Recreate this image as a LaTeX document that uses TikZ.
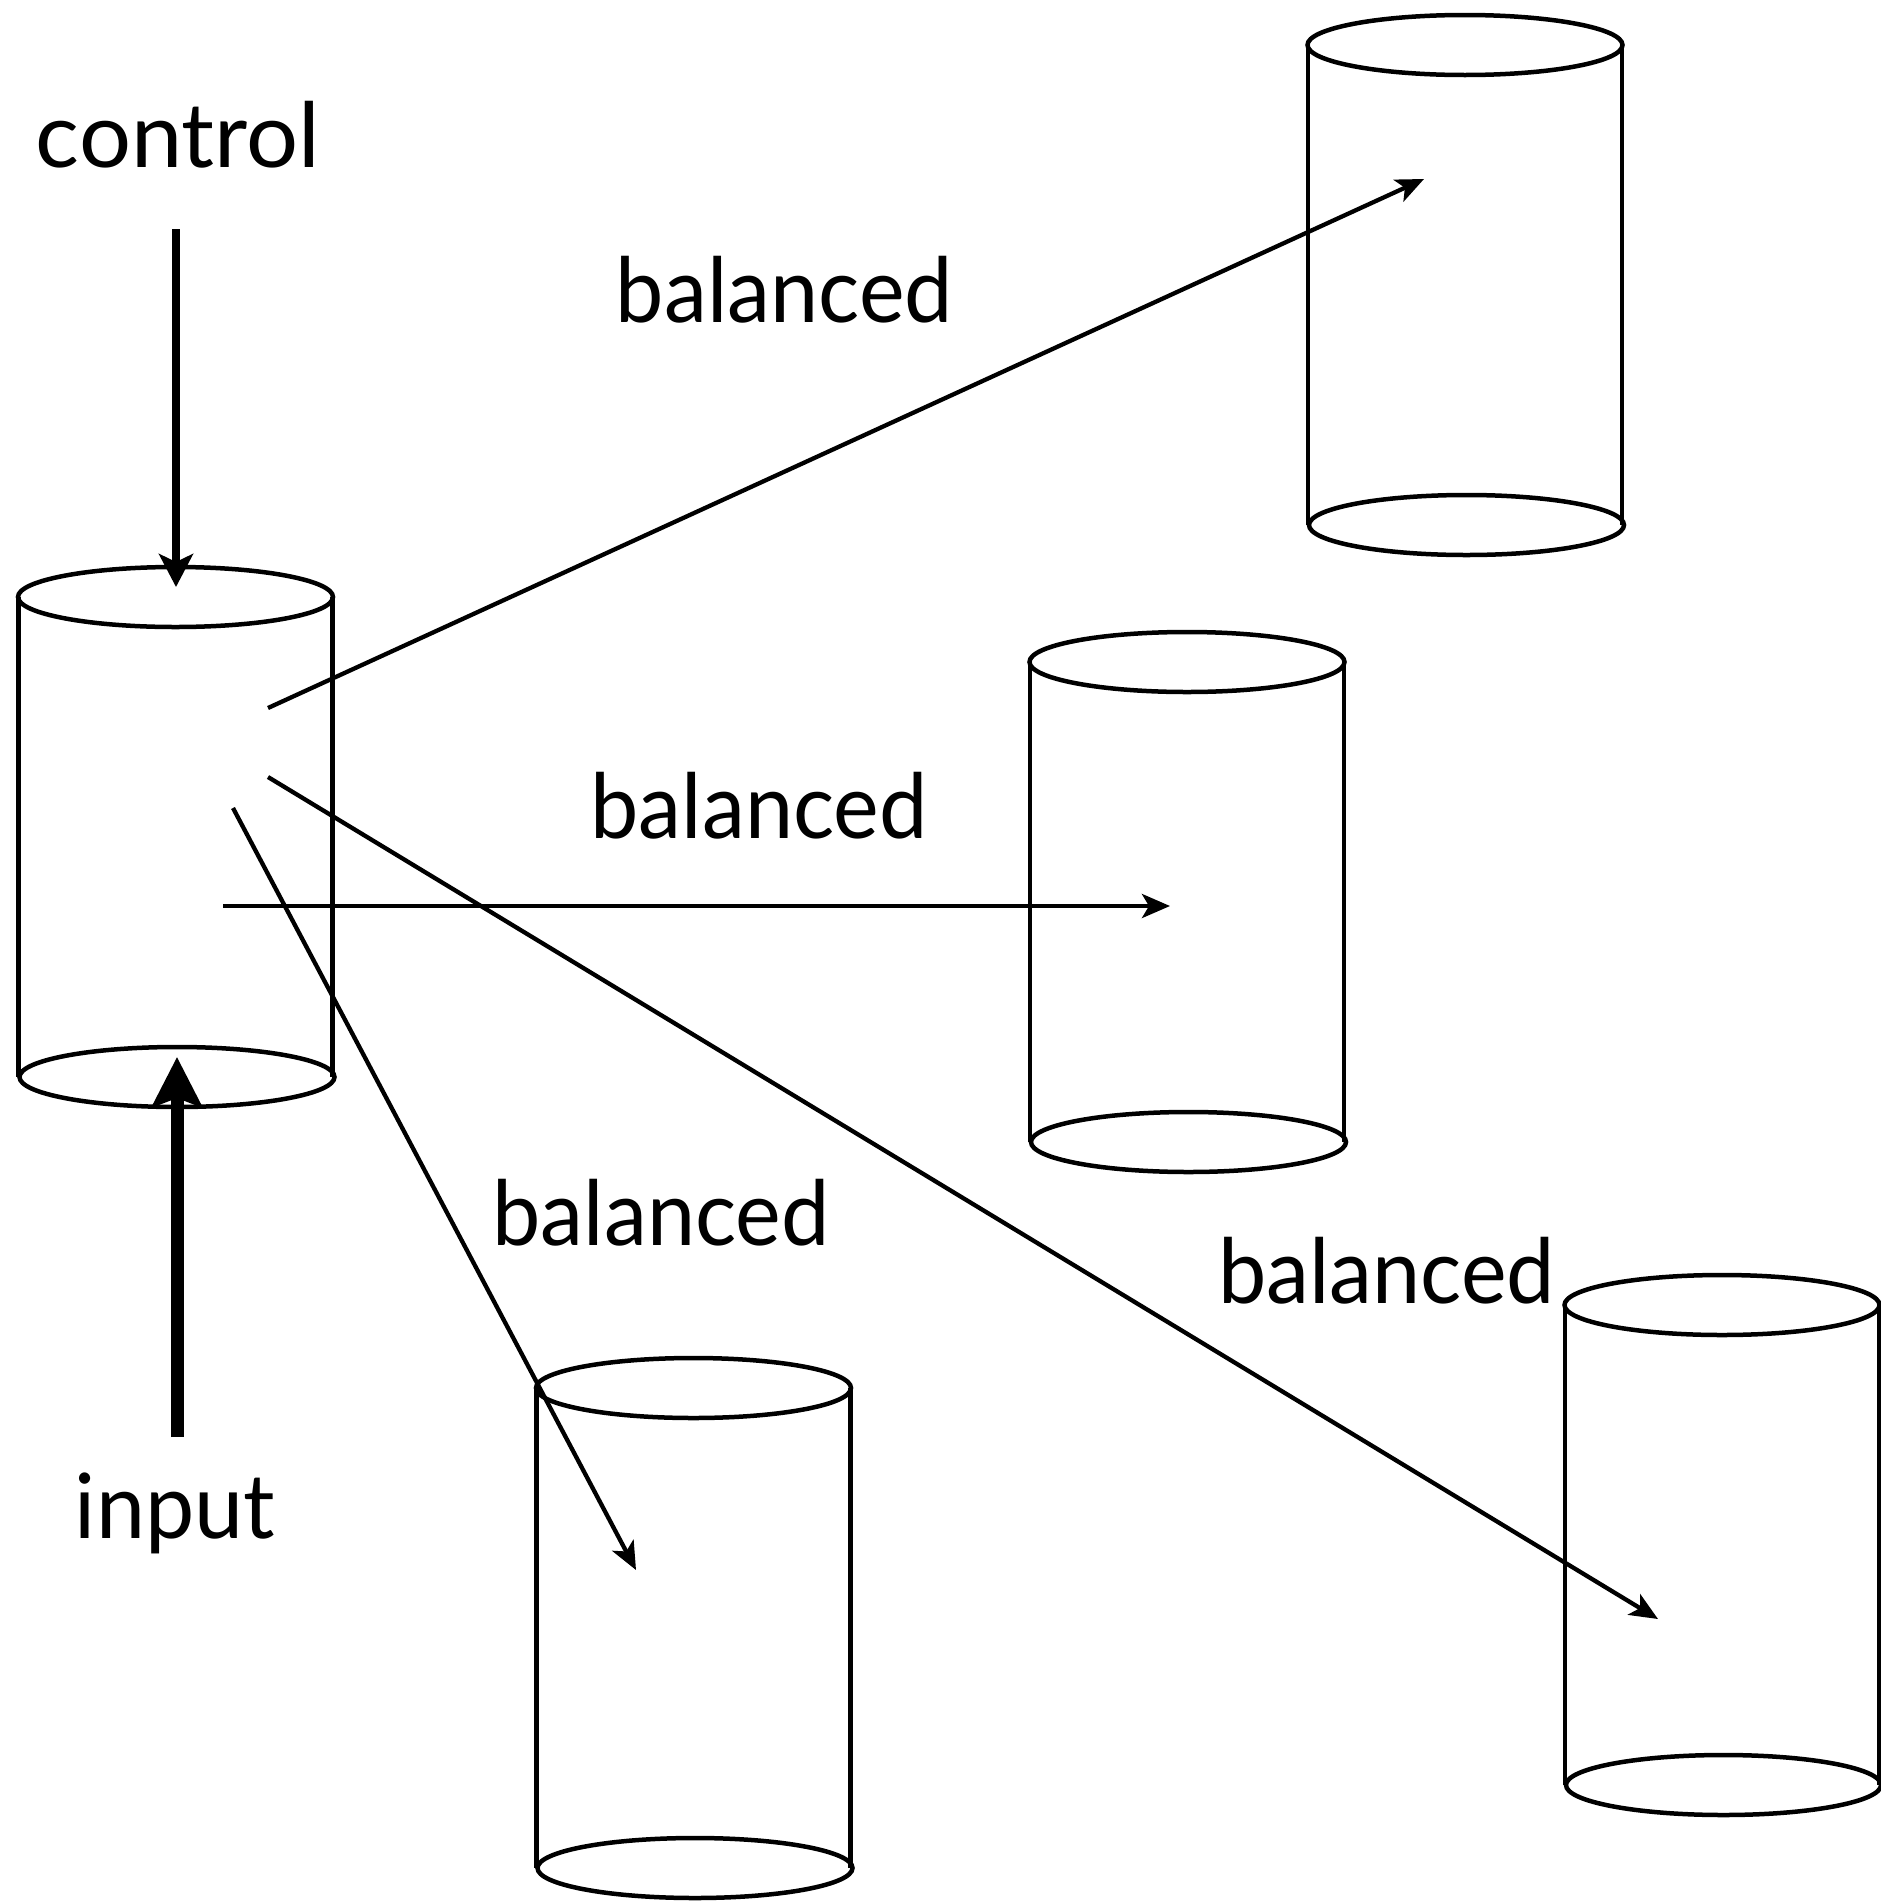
\documentclass[tikz,border=0pt]{standalone}
\usepackage{fontspec}
\setmainfont{Lato}
\usetikzlibrary{arrows.meta}
\tikzset{
  cyl/.style={line width=4.5pt},
  can/.pic={
    \draw[cyl] (0,0) ellipse [x radius=157.5, y radius=30];
    \draw[cyl] (1.5,480) ellipse [x radius=157.5, y radius=30];
    \draw[cyl] (-157,0) -- (-157,480);
    \draw[cyl] (157,0) -- (157,480);
  },
  lbl/.style={anchor=base, inner sep=0pt, font=\fontsize{90}{100}\selectfont},
  flow/.style={line width=4.3pt, -{Stealth[length=28pt,width=24pt,inset=7pt]}},
  ctrlarrow/.style={line width=8pt, -{Stealth[length=33pt,width=34pt,inset=8pt]}},
  inarrow/.style={line width=13pt, -{Stealth[length=50pt,width=50pt,inset=9pt]}}
}
\begin{document}
\begin{tikzpicture}[x=1pt,y=-1pt]
\useasboundingbox (0,0) rectangle (1881,1901);
% cylinders
\pic (L)  at (175.5,597)  {can};
\pic (TR) at (1465,45)  {can};
\pic (M)  at (1187,662) {can};
\pic (BM) at (693.5,1388)   {can};
\pic (BR) at (1722,1305) {can};
% labels
\node[lbl] (ctl)  at (178,167)   {\resizebox{284pt}{\height}{control}};
\node[lbl] (inp)  at (175,1538) {\resizebox{200pt}{\height}{input}};
\node[lbl] (bal1) at (784.5,322) {\resizebox{337pt}{\height}{balanced}};
\node[lbl] (bal2) at (759,838)   {\resizebox{337pt}{\height}{balanced}};
\node[lbl] (bal3) at (661,1245)  {\resizebox{337pt}{\height}{balanced}};
\node[lbl] (bal4) at (1386.5,1303) {\resizebox{337pt}{\height}{balanced}};
% arrow end points
\coordinate (ctrlS) at (176,229);
\coordinate (ctrlE) at (176,587);
\coordinate (inS) at (177,1437);
\coordinate (inE) at (177,1057);
\coordinate (a1s) at (268,708);
\coordinate (a1e) at (1424,179);
\coordinate (a2s) at (223,906);
\coordinate (a2e) at (1170,906);
\coordinate (a3s) at (268,777);
\coordinate (a3e) at (1658,1619);
\coordinate (a4s) at (233,808);
\coordinate (a4e) at (636,1570);
% arrows
\draw[ctrlarrow] (ctrlS) -- (ctrlE);
\draw[inarrow] (inS) -- (inE);
\draw[flow] (a1s) -- (a1e);
\draw[flow] (a2s) -- (a2e);
\draw[flow] (a3s) -- (a3e);
\draw[flow] (a4s) -- (a4e);
\end{tikzpicture}
\end{document}
